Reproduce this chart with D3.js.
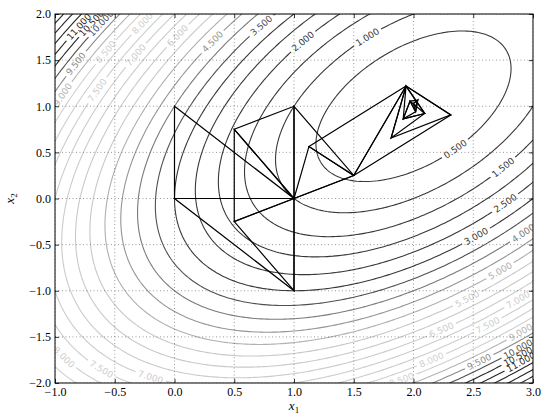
<!DOCTYPE html>
<html>
<head>
<meta charset="utf-8">
<script src="https://cdn.jsdelivr.net/npm/d3@7"></script>
<style>
  body { margin: 0; background: #fff; }
  svg { display: block; }
  .tick text { font-family: "Liberation Serif", "DejaVu Serif", serif; font-size: 12px; fill: #000; }
  .clabel { font-family: "DejaVu Sans", sans-serif; font-size: 9px; }
  .axis-label { font-family: "Liberation Serif", "DejaVu Serif", serif; font-size: 13px; }
</style>
</head>
<body>
<svg id="chart" width="542" height="414"></svg>
<script>
// tick values
const x1Ticks = [-1.0, -0.5, 0.0, 0.5, 1.0, 1.5, 2.0, 2.5, 3.0];
const x2Ticks = [-2.0, -1.5, -1.0, -0.5, 0.0, 0.5, 1.0, 1.5, 2.0];

// contour levels
const levels = [0.5, 1, 1.5, 2, 2.5, 3, 3.5, 4, 4.5, 5, 5.5, 6, 6.5, 7, 7.5, 8, 8.5, 9,
  9.5, 10, 10.5, 11, 11.5, 12, 12.5, 13, 13.5, 14];

// where the contour labels sit (level, x1, x2)
const labelSpots = [
  [0.5, 2.35, 0.55], [1, 1.61, 1.75], [1.5, 2.75, 0.34], [2, 1.075, 1.70],
  [2.5, 2.77, -0.07], [3, 2.51, -0.40], [3.5, 0.73, 1.88], [4, 2.91, -0.37],
  [4.5, 0.27, 1.75], [5, 2.71, -0.78], [5.5, 2.45, -1.10], [6, 0.02, 1.78],
  [6.5, 2.24, -1.43], [7, -0.33, 1.57], [7, -0.205, -1.93], [7, 2.89, -1.10],
  [7.5, -0.665, 1.19], [7.5, -0.61, -1.84], [7.5, 2.61, -1.35],
  [8, -0.26, 1.91], [8, -0.93, -1.72], [8, 2.15, -1.72], [8.5, -0.58, 1.59],
  [8.5, 1.89, -1.95], [9, -0.96, 1.13], [9, 2.92, -1.50], [9.5, -0.83, 1.46],
  [9.5, 2.54, -1.73], [10, -0.61, 1.89], [10, 2.87, -1.64], [10.5, -0.72, 1.93],
  [10.5, 2.88, -1.70], [11, -0.79, 1.86], [11, 2.89, -1.75]
];

// simplex iterations, one triangle each
const simplexes = [
  [[0, 0], [1, 0], [0, 1]],
  [[1, 0], [0, 0], [1, -1]],
  [[1, 0], [1, -1], [0.5, -0.25]],
  [[1, 0], [0.5, -0.25], [0.5, 0.75]],
  [[1, 0], [0.5, 0.75], [1, 1]],
  [[1, 0], [1, 1], [1.5, 0.25]],
  [[1.5, 0.25], [1, 0], [1.125, 0.5625]],
  [[1.5, 0.25], [1.125, 0.5625], [1.9375, 1.21875]],
  [[1.9375, 1.21875], [1.5, 0.25], [2.3125, 0.90625]],
  [[1.9375, 1.21875], [2.3125, 0.90625], [1.8125, 0.65625]],
  [[1.9375, 1.21875], [1.8125, 0.65625], [2.09375, 0.921875]],
  [[2.09375, 0.921875], [1.9375, 1.21875], [1.914, 0.863]],
  [[2.09375, 0.921875], [1.914, 0.863], [1.971, 1.056]],
  [[1.914, 0.863], [1.971, 1.056], [2.018, 0.941]],
  [[1.971, 1.056], [2.018, 0.941], [2.035, 1.065]],
  [[2.018, 0.941], [2.035, 1.065], [1.999, 1.029]],
  [[2.035, 1.065], [1.999, 1.029], [2.017, 0.994]]
];

// objective function
function f(a, b) {
  return a * a - a * b + b * b - 3 * a + 3;
}

const svg = d3.select("#chart");
const x = d3.scaleLinear().domain([-1, 3]).range([55, 533]);
const y = d3.scaleLinear().domain([-2, 2]).range([383, 14]);

const lineColor = d3.scaleLinear()
  .domain([0.5, 3, 3.5, 4, 5, 5.5, 8.5, 9, 9.5, 10, 10.5])
  .range(["#383838", "#383838", "#505050", "#7a7a7a", "#b0b0b0", "#c8c8c8",
    "#d0d0d0", "#b4b4b4", "#8c8c8c", "#505050", "#262626"])
  .clamp(true);

const defs = svg.append("defs");
defs.append("clipPath").attr("id", "plotClip")
  .append("rect")
  .attr("x", x(-1)).attr("y", y(2))
  .attr("width", x(3) - x(-1)).attr("height", y(-2) - y(2));

// grid for the contours, a bit wider than the axes
const n = 201, lo1 = -1.5, hi1 = 3.5, lo2 = -2.5, hi2 = 2.5;
const step1 = (hi1 - lo1) / (n - 1);
const step2 = (hi2 - lo2) / (n - 1);
const values = new Float64Array(n * n);
for (let j = 0; j < n; j++) {
  for (let i = 0; i < n; i++) {
    values[j * n + i] = f(lo1 + i * step1, hi2 - j * step2);
  }
}
const contours = d3.contours().size([n, n]).thresholds(levels)(values);
const toPx = (p) => [x(lo1 + (p[0] - 0.5) * step1), y(hi2 - (p[1] - 0.5) * step2)];
contours.forEach((c) => {
  c.rings = [];
  c.coordinates.forEach((poly) => poly.forEach((ring) => c.rings.push(ring.map(toPx))));
});

// label placement
const mask = defs.append("mask").attr("id", "labelMask")
  .attr("maskUnits", "userSpaceOnUse")
  .attr("x", 0).attr("y", 0).attr("width", 542).attr("height", 414);
mask.append("rect").attr("width", 542).attr("height", 414).attr("fill", "#fff");

const labelGroup = svg.append("g").attr("clip-path", "url(#plotClip)");
const fmt = d3.format(".3f");
labelSpots.forEach(([lev, a, b]) => {
  const c = contours.find((k) => Math.abs(k.value - lev) < 1e-9);
  if (!c) return;
  const px = x(a), py = y(b);
  let best = null, bd = Infinity;
  c.rings.forEach((r) => r.forEach((p, i) => {
    const d = (p[0] - px) ** 2 + (p[1] - py) ** 2;
    if (d < bd) { bd = d; best = { r, i }; }
  }));
  const r = best.r, m = r.length - 1;
  const p0 = r[(best.i - 3 + m) % m], p1 = r[(best.i + 3) % m], pc = r[best.i];
  let ang = Math.atan2(p1[1] - p0[1], p1[0] - p0[0]) * 180 / Math.PI;
  if (ang > 90) ang -= 180;
  if (ang < -90) ang += 180;
  const t = labelGroup.append("text")
    .attr("class", "clabel")
    .attr("transform", `translate(${pc[0]},${pc[1]}) rotate(${ang})`)
    .attr("text-anchor", "middle")
    .attr("dy", "0.35em")
    .attr("fill", lineColor(lev))
    .text(fmt(lev));
  const w = t.node().getComputedTextLength() + 6;
  mask.append("rect")
    .attr("x", -w / 2).attr("y", -5).attr("width", w).attr("height", 10)
    .attr("transform", `translate(${pc[0]},${pc[1]}) rotate(${ang})`)
    .attr("fill", "#000");
});

// contour lines
const contourGroup = svg.insert("g", ":first-child")
  .attr("clip-path", "url(#plotClip)")
  .append("g")
  .attr("mask", "url(#labelMask)");
contourGroup.selectAll("path")
  .data(contours)
  .join("path")
  .attr("d", (c) => c.rings.map((r) => "M" + r.join("L") + "Z").join(""))
  .attr("fill", "none")
  .attr("stroke", (c) => lineColor(c.value))
  .attr("stroke-width", 1.1);

// grid
const grid = svg.append("g").attr("clip-path", "url(#plotClip)")
  .attr("stroke", "#555").attr("stroke-width", 0.6).attr("stroke-dasharray", "1,2.5");
grid.selectAll(".gx").data(x1Ticks).join("line")
  .attr("x1", (d) => x(d)).attr("x2", (d) => x(d))
  .attr("y1", y(2)).attr("y2", y(-2));
grid.selectAll(".gy").data(x2Ticks).join("line")
  .attr("y1", (d) => y(d)).attr("y2", (d) => y(d))
  .attr("x1", x(-1)).attr("x2", x(3));

// simplex path
const line = d3.line().x((d) => x(d[0])).y((d) => y(d[1]));
svg.append("g").attr("clip-path", "url(#plotClip)")
  .selectAll("path")
  .data(simplexes)
  .join("path")
  .attr("d", (s) => line(s) + "Z")
  .attr("fill", "none")
  .attr("stroke", "#000")
  .attr("stroke-width", 1.2)
  .attr("stroke-linejoin", "miter");

// axes, ticks pointing inward
const tickFmt = d3.format(".1f");
svg.append("g").attr("transform", `translate(0,${y(-2)})`)
  .call(d3.axisBottom(x).tickValues(x1Ticks).tickFormat(tickFmt)
    .tickSizeInner(-4).tickSizeOuter(0).tickPadding(4));
svg.append("g").attr("transform", `translate(${x(-1)},0)`)
  .call(d3.axisLeft(y).tickValues(x2Ticks).tickFormat(tickFmt)
    .tickSizeInner(-4).tickSizeOuter(0).tickPadding(4));
svg.append("g").attr("transform", `translate(0,${y(2)})`)
  .call(d3.axisTop(x).tickValues(x1Ticks).tickFormat("")
    .tickSizeInner(-4).tickSizeOuter(0));
svg.append("g").attr("transform", `translate(${x(3)},0)`)
  .call(d3.axisRight(y).tickValues(x2Ticks).tickFormat("")
    .tickSizeInner(-4).tickSizeOuter(0));
svg.selectAll(".domain").remove();
svg.selectAll(".tick line").attr("stroke", "#000").attr("stroke-width", 0.8);

svg.append("rect")
  .attr("x", x(-1)).attr("y", y(2))
  .attr("width", x(3) - x(-1)).attr("height", y(-2) - y(2))
  .attr("fill", "none").attr("stroke", "#000").attr("stroke-width", 1);

// axis labels
const xl = svg.append("text").attr("class", "axis-label")
  .attr("x", (x(-1) + x(3)) / 2).attr("y", 410).attr("text-anchor", "middle");
xl.append("tspan").attr("font-style", "italic").text("x");
xl.append("tspan").attr("dy", 3).attr("font-size", "9px").text("1");

const yl = svg.append("text").attr("class", "axis-label")
  .attr("transform", `translate(14,${(y(2) + y(-2)) / 2}) rotate(-90)`)
  .attr("text-anchor", "middle");
yl.append("tspan").attr("font-style", "italic").text("x");
yl.append("tspan").attr("dy", 3).attr("font-size", "9px").text("2");
</script>
</body>
</html>
